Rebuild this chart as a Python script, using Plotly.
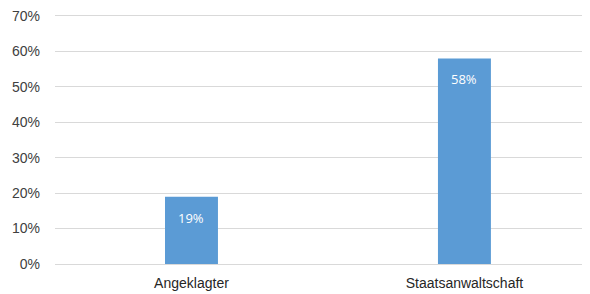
import plotly.graph_objects as go

categories = ["Angeklagter", "Staatsanwaltschaft"]
values = [19, 58]
tick_vals = [0, 10, 20, 30, 40, 50, 60, 70]
tick_text = ["0%", "10%", "20%", "30%", "40%", "50%", "60%", "70%"]

fig = go.Figure()
fig.add_trace(go.Bar(
    x=categories, y=values, width=0.194,
    marker=dict(color="#5B9BD5", line=dict(width=0)),
    hoverinfo="skip",
))
for c, v in zip(categories, values):
    fig.add_annotation(x=c, y=v, text=f"{v}%", showarrow=False, yshift=-21,
                       font=dict(family="Open Sans, Noto Sans, sans-serif", size=13, color="white"))

fig.update_layout(
    width=582, height=286,
    margin=dict(l=47, r=0, t=4, b=30),
    paper_bgcolor="white", plot_bgcolor="white",
    showlegend=False,
    font=dict(family="Liberation Sans, Arial, sans-serif", size=14, color="#404040"),
)
fig.update_xaxes(range=[-0.5, 1.46], showgrid=False, showline=False, ticks="",
                 tickfont=dict(size=14, color="#262626"), ticklabelstandoff=9)
fig.update_yaxes(range=[0, 71.1], tickvals=tick_vals, ticktext=tick_text,
                 showgrid=True, gridcolor="#D9D9D9", gridwidth=1,
                 zeroline=True, zerolinecolor="#D9D9D9", zerolinewidth=1,
                 showline=False, ticks="", ticklabelstandoff=14,
                 ticklabeloverflow="allow",
                 tickfont=dict(size=14, color="#404040"))
fig.write_html("out.html")
